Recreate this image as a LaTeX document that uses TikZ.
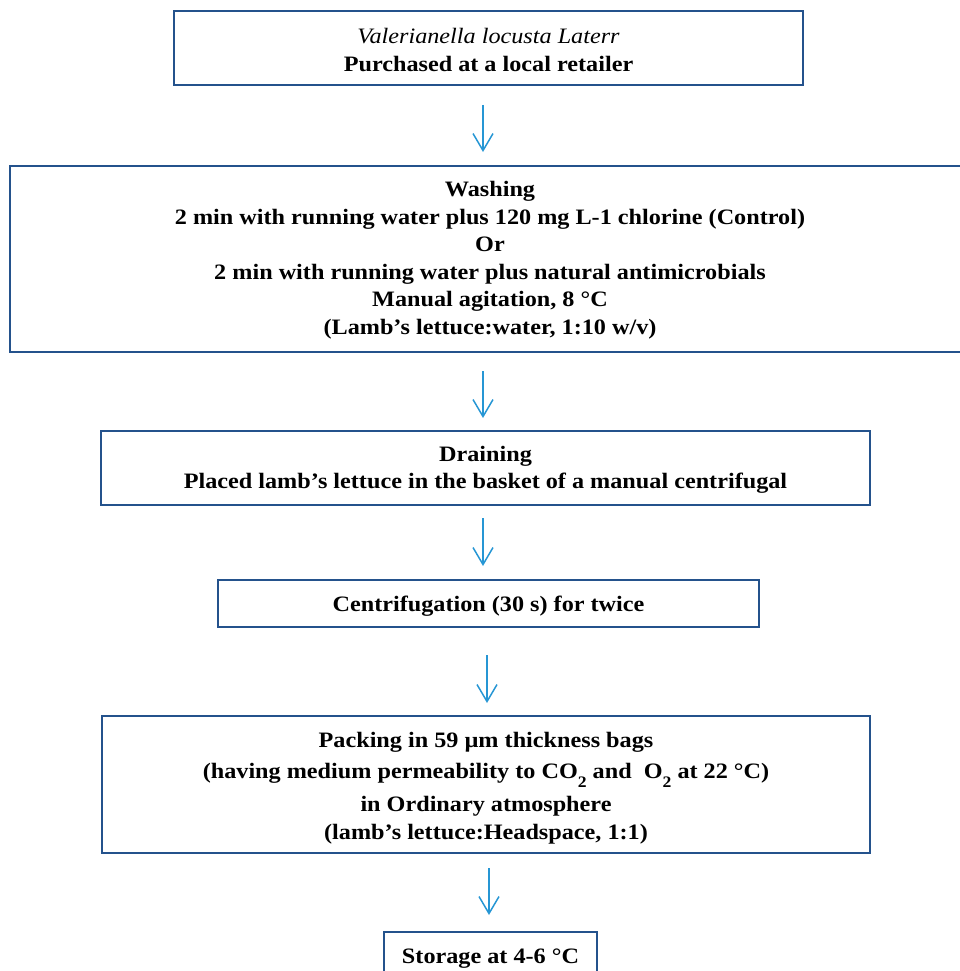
\documentclass[tikz,border=0pt]{standalone}
\usepackage{fontspec}
\setmainfont{Liberation Serif}[FakeStretch=1.1]
\usepackage{xcolor}
\usetikzlibrary{positioning,arrows.meta}

\definecolor{boxblue}{RGB}{36,82,140}
\definecolor{arrowblue}{RGB}{38,150,212}
\newcommand{\subtwo}{\raisebox{-9pt}{\fontsize{16}{16}\selectfont 2}}

\tikzset{
    stepbox/.style={draw=boxblue, line width=2pt, rectangle, align=center, outer sep=0pt,
        font=\fontsize{22}{27.5}\selectfont\bfseries},
    flow/.style={draw=arrowblue, line width=1.5pt,
        -{Straight Barb[length=17pt,width=20pt,line width=1.5pt]}}
}

\begin{document}
\begin{tikzpicture}
        \useasboundingbox (0,0) rectangle (960pt,-971pt); % page frame
        \node [stepbox, minimum width=629pt, minimum height=74pt] (buy) at (488.5pt,-48pt)
            {\rule{0pt}{19pt}{\mdseries\itshape Valerianella locusta Laterr}\\Purchased at a local retailer}; % top box
        \node [stepbox, minimum width=960pt, minimum height=186pt, below=81pt of buy, xshift=1.5pt] (wash)
            {\rule{0pt}{18pt}Washing\\2 min with running water plus 120 mg L-1 chlorine (Control)\\Or\\
             2 min with running water plus natural antimicrobials\\Manual agitation, 8 °C\\
             (Lamb’s lettuce:water, 1:10 w/v)}; % wide box, runs off the right edge
        \node [stepbox, minimum width=769pt, minimum height=74pt, below=79pt of wash, xshift=-4.5pt] (drain)
            {\rule{0pt}{19pt}Draining\\Placed lamb’s lettuce in the basket of a manual centrifugal}; % draining
        \node [stepbox, minimum width=541pt, minimum height=47pt, below=75pt of drain, xshift=3pt] (spin)
            {\rule{0pt}{21pt}Centrifugation (30 s) for twice}; % centrifugation
        \node [stepbox, minimum width=768pt, minimum height=137pt, below=89pt of spin, xshift=-2.5pt] (pack)
            {\rule{0pt}{23pt}Packing in 59 µm thickness bags\\[3pt]
             (having medium permeability to CO\subtwo{} and ~O\subtwo{} at 22 °C)\\[6pt]
             in Ordinary atmosphere\\(lamb’s lettuce:Headspace, 1:1)}; % packing
        \node [stepbox, minimum width=213pt, minimum height=47pt, below=79pt of pack, xshift=4.5pt] (store)
            {\rule{0pt}{21pt}Storage at 4-6 °C}; % last box, cut by the bottom edge
        \draw [flow, shorten <=20pt, shorten >=14pt] ([xshift=-5.5pt]buy.south) -- ([xshift=-7pt]wash.north);
        \draw [flow, shorten <=19pt, shorten >=13pt] ([xshift=-7pt]wash.south) -- ([xshift=-2.5pt]drain.north);
        \draw [flow, shorten <=13pt, shorten >=14pt] ([xshift=-2.5pt]drain.south) -- ([xshift=-5.5pt]spin.north);
        \draw [flow, shorten <=28pt, shorten >=13pt] ([xshift=-1.5pt]spin.south) -- ([xshift=1pt]pack.north);
        \draw [flow, shorten <=15pt, shorten >=17pt] ([xshift=3pt]pack.south) -- ([xshift=-1.5pt]store.north);
    \end{tikzpicture}
\end{document}
